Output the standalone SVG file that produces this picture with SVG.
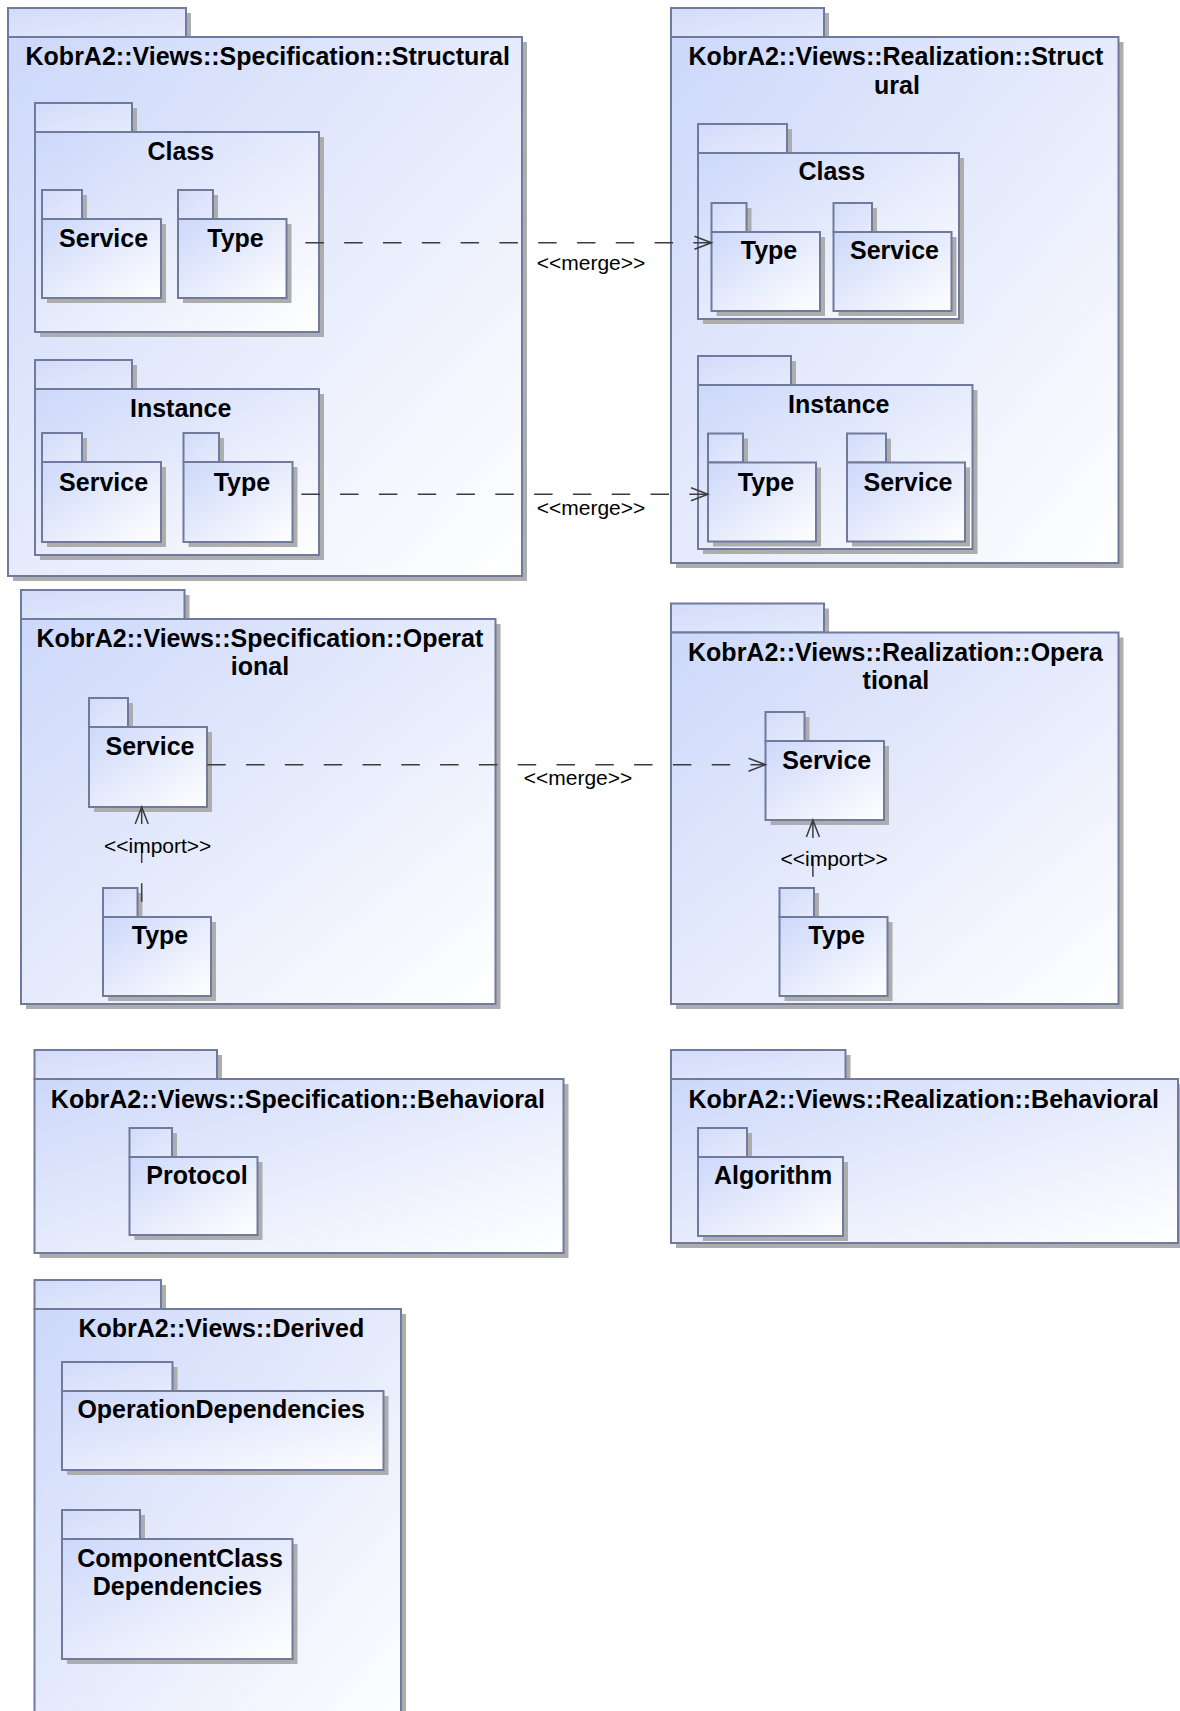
<svg xmlns="http://www.w3.org/2000/svg" width="1180" height="1711" viewBox="0 0 1180 1711">
  <defs>
    <linearGradient id="bodyFill" x1="0" y1="0" x2="1" y2="1">
      <stop offset="0" stop-color="#cdd8fa"/>
      <stop offset="1" stop-color="#ffffff"/>
    </linearGradient>
    <linearGradient id="tabFill" x1="0" y1="0" x2="1" y2="1">
      <stop offset="0" stop-color="#d2dbfa"/>
      <stop offset="1" stop-color="#e6ebfc"/>
    </linearGradient>
    <marker id="open" viewBox="-19 -9 21 18" markerWidth="21" markerHeight="18" refX="0" refY="0" orient="auto" markerUnits="userSpaceOnUse">
      <path d="M-17,-6.5 L0,0 L-17,6.5" fill="none" stroke="#3c3c3c" stroke-width="1.5"/>
    </marker>
  </defs>
  <style>
    .sh { fill: #adadad; }
    .tab { fill: url(#tabFill); stroke: #6f7a9c; stroke-width: 2; }
    .body { fill: url(#bodyFill); stroke: #6f7a9c; stroke-width: 2; }
    .name { font-family: "Liberation Sans", Arial, sans-serif; font-weight: bold; font-size: 25px; fill: #000; text-anchor: middle; }
    .lbl { font-family: "Liberation Sans", Arial, sans-serif; font-size: 21px; fill: #000; text-anchor: middle; }
    .dep { fill: none; stroke: #3c3c3c; stroke-width: 1.5; stroke-dasharray: 18.5 20.3; marker-end: url(#open); }
  </style>
  <rect width="1180" height="1711" fill="#ffffff"/>

  <!-- KobrA2::Views::Specification::Structural -->
  <g id="spec-structural">
    <rect class="sh" x="13" y="13" width="178" height="29"/>
    <rect class="sh" x="13" y="42" width="514" height="539"/>
    <rect class="tab" x="8" y="8" width="178" height="29"/>
    <rect class="body" x="8" y="37" width="514" height="539"/>
    <text class="name" x="267.7" y="65">KobrA2::Views::Specification::Structural</text>
  </g>
  <g id="spec-class">
    <rect class="sh" x="40" y="108" width="97" height="29"/>
    <rect class="sh" x="40" y="137" width="284" height="200"/>
    <rect class="tab" x="35" y="103" width="97" height="29"/>
    <rect class="body" x="35" y="132" width="284" height="200"/>
    <text class="name" x="180.8" y="160">Class</text>
  </g>
  <g id="spec-class-service">
    <rect class="sh" x="47" y="195" width="40" height="29"/>
    <rect class="sh" x="47" y="224" width="119" height="79"/>
    <rect class="tab" x="42" y="190" width="40" height="29"/>
    <rect class="body" x="42" y="219" width="119" height="79"/>
    <text class="name" x="103.6" y="246.7">Service</text>
  </g>
  <g id="spec-class-type">
    <rect class="sh" x="183" y="195" width="35" height="29"/>
    <rect class="sh" x="183" y="224" width="108.5" height="79"/>
    <rect class="tab" x="178" y="190" width="35" height="29"/>
    <rect class="body" x="178" y="219" width="108.5" height="79"/>
    <text class="name" x="235.5" y="246.7">Type</text>
  </g>
  <g id="spec-instance">
    <rect class="sh" x="40" y="365" width="97" height="29"/>
    <rect class="sh" x="40" y="394" width="284" height="166"/>
    <rect class="tab" x="35" y="360" width="97" height="29"/>
    <rect class="body" x="35" y="389" width="284" height="166"/>
    <text class="name" x="180.7" y="417.3">Instance</text>
  </g>
  <g id="spec-instance-service">
    <rect class="sh" x="47" y="438" width="40" height="29"/>
    <rect class="sh" x="47" y="467" width="119" height="80"/>
    <rect class="tab" x="42" y="433" width="40" height="29"/>
    <rect class="body" x="42" y="462" width="119" height="80"/>
    <text class="name" x="103.6" y="490.7">Service</text>
  </g>
  <g id="spec-instance-type">
    <rect class="sh" x="188.5" y="438" width="35.5" height="29"/>
    <rect class="sh" x="188.5" y="467" width="109" height="80"/>
    <rect class="tab" x="183.5" y="433" width="35.5" height="29"/>
    <rect class="body" x="183.5" y="462" width="109" height="80"/>
    <text class="name" x="241.9" y="490.7">Type</text>
  </g>

  <!-- KobrA2::Views::Realization::Structural -->
  <g id="real-structural">
    <rect class="sh" x="676" y="13" width="153" height="29"/>
    <rect class="sh" x="676" y="42" width="447.5" height="526"/>
    <rect class="tab" x="671" y="8" width="153" height="29"/>
    <rect class="body" x="671" y="37" width="447.5" height="526"/>
    <text class="name" x="896" y="65">KobrA2::Views::Realization::Struct</text>
    <text class="name" x="897" y="94">ural</text>
  </g>
  <g id="real-class">
    <rect class="sh" x="703" y="129" width="89" height="29"/>
    <rect class="sh" x="703" y="158" width="261" height="166"/>
    <rect class="tab" x="698" y="124" width="89" height="29"/>
    <rect class="body" x="698" y="153" width="261" height="166"/>
    <text class="name" x="831.8" y="180">Class</text>
  </g>
  <g id="real-class-type">
    <rect class="sh" x="716.5" y="208" width="35" height="29"/>
    <rect class="sh" x="716.5" y="237" width="108.5" height="79"/>
    <rect class="tab" x="711.5" y="203" width="35" height="29"/>
    <rect class="body" x="711.5" y="232" width="108.5" height="79"/>
    <text class="name" x="769" y="259.3">Type</text>
  </g>
  <g id="real-class-service">
    <rect class="sh" x="838.5" y="208" width="38.5" height="29"/>
    <rect class="sh" x="838.5" y="237" width="118" height="79"/>
    <rect class="tab" x="833.5" y="203" width="38.5" height="29"/>
    <rect class="body" x="833.5" y="232" width="118" height="79"/>
    <text class="name" x="894.5" y="259.3">Service</text>
  </g>
  <g id="real-instance">
    <rect class="sh" x="703" y="361" width="93" height="29"/>
    <rect class="sh" x="703" y="390" width="274.5" height="164"/>
    <rect class="tab" x="698" y="356" width="93" height="29"/>
    <rect class="body" x="698" y="385" width="274.5" height="164"/>
    <text class="name" x="838.8" y="412.7">Instance</text>
  </g>
  <g id="real-instance-type">
    <rect class="sh" x="713" y="438.5" width="35" height="29"/>
    <rect class="sh" x="713" y="467.5" width="108" height="79"/>
    <rect class="tab" x="708" y="433.5" width="35" height="29"/>
    <rect class="body" x="708" y="462.5" width="108" height="79"/>
    <text class="name" x="766" y="490.7">Type</text>
  </g>
  <g id="real-instance-service">
    <rect class="sh" x="852" y="438.5" width="39" height="29"/>
    <rect class="sh" x="852" y="467.5" width="118" height="79"/>
    <rect class="tab" x="847" y="433.5" width="39" height="29"/>
    <rect class="body" x="847" y="462.5" width="118" height="79"/>
    <text class="name" x="908" y="490.7">Service</text>
  </g>

  <!-- KobrA2::Views::Specification::Operational -->
  <g id="spec-operational">
    <rect class="sh" x="26" y="595" width="163.5" height="29"/>
    <rect class="sh" x="26" y="624" width="474.5" height="385"/>
    <rect class="tab" x="21" y="590" width="163.5" height="29"/>
    <rect class="body" x="21" y="619" width="474.5" height="385"/>
    <text class="name" x="259.9" y="646.7">KobrA2::Views::Specification::Operat</text>
    <text class="name" x="260" y="675">ional</text>
  </g>
  <g id="spec-op-service">
    <rect class="sh" x="94" y="703" width="39" height="29"/>
    <rect class="sh" x="94" y="732" width="118" height="80"/>
    <rect class="tab" x="89" y="698" width="39" height="29"/>
    <rect class="body" x="89" y="727" width="118" height="80"/>
    <text class="name" x="150" y="755">Service</text>
  </g>
  <g id="spec-op-type">
    <rect class="sh" x="108" y="893" width="34.5" height="29"/>
    <rect class="sh" x="108" y="922" width="108" height="79"/>
    <rect class="tab" x="103" y="888" width="34.5" height="29"/>
    <rect class="body" x="103" y="917" width="108" height="79"/>
    <text class="name" x="160" y="944.3">Type</text>
  </g>

  <!-- KobrA2::Views::Realization::Operational -->
  <g id="real-operational">
    <rect class="sh" x="676" y="608.5" width="153" height="29"/>
    <rect class="sh" x="676" y="637.5" width="447.5" height="371.5"/>
    <rect class="tab" x="671" y="603.5" width="153" height="29"/>
    <rect class="body" x="671" y="632.5" width="447.5" height="371.5"/>
    <text class="name" x="895.5" y="661">KobrA2::Views::Realization::Opera</text>
    <text class="name" x="895.9" y="689.3">tional</text>
  </g>
  <g id="real-op-service">
    <rect class="sh" x="770.5" y="717" width="39" height="29"/>
    <rect class="sh" x="770.5" y="746" width="118.5" height="79"/>
    <rect class="tab" x="765.5" y="712" width="39" height="29"/>
    <rect class="body" x="765.5" y="741" width="118.5" height="79"/>
    <text class="name" x="826.8" y="769.3">Service</text>
  </g>
  <g id="real-op-type">
    <rect class="sh" x="784.5" y="893" width="34.5" height="29"/>
    <rect class="sh" x="784.5" y="922" width="108" height="79"/>
    <rect class="tab" x="779.5" y="888" width="34.5" height="29"/>
    <rect class="body" x="779.5" y="917" width="108" height="79"/>
    <text class="name" x="836.6" y="944.3">Type</text>
  </g>

  <!-- KobrA2::Views::Specification::Behavioral -->
  <g id="spec-behavioral">
    <rect class="sh" x="39.5" y="1055" width="182.5" height="29"/>
    <rect class="sh" x="39.5" y="1084" width="529" height="174"/>
    <rect class="tab" x="34.5" y="1050" width="182.5" height="29"/>
    <rect class="body" x="34.5" y="1079" width="529" height="174"/>
    <text class="name" x="297.9" y="1108.3">KobrA2::Views::Specification::Behavioral</text>
  </g>
  <g id="spec-protocol">
    <rect class="sh" x="134.5" y="1133" width="42.5" height="29"/>
    <rect class="sh" x="134.5" y="1162" width="128" height="78"/>
    <rect class="tab" x="129.5" y="1128" width="42.5" height="29"/>
    <rect class="body" x="129.5" y="1157" width="128" height="78"/>
    <text class="name" x="197" y="1184.3">Protocol</text>
  </g>

  <!-- KobrA2::Views::Realization::Behavioral -->
  <g id="real-behavioral">
    <rect class="sh" x="676" y="1055" width="174.5" height="29"/>
    <rect class="sh" x="676" y="1084" width="507" height="164"/>
    <rect class="tab" x="671" y="1050" width="174.5" height="29"/>
    <rect class="body" x="671" y="1079" width="507" height="164"/>
    <text class="name" x="923.7" y="1108.3">KobrA2::Views::Realization::Behavioral</text>
  </g>
  <g id="real-algorithm">
    <rect class="sh" x="703" y="1133" width="49" height="29"/>
    <rect class="sh" x="703" y="1162" width="145" height="79"/>
    <rect class="tab" x="698" y="1128" width="49" height="29"/>
    <rect class="body" x="698" y="1157" width="145" height="79"/>
    <text class="name" x="773.1" y="1184.3">Algorithm</text>
  </g>

  <!-- KobrA2::Views::Derived -->
  <g id="derived">
    <rect class="sh" x="39.5" y="1285" width="126.5" height="29"/>
    <rect class="sh" x="39.5" y="1314" width="366.5" height="430"/>
    <rect class="tab" x="34.5" y="1280" width="126.5" height="29"/>
    <rect class="body" x="34.5" y="1309" width="366.5" height="430"/>
    <text class="name" x="221.3" y="1336.7">KobrA2::Views::Derived</text>
  </g>
  <g id="derived-operation-dependencies">
    <rect class="sh" x="67" y="1367" width="110.5" height="29"/>
    <rect class="sh" x="67" y="1396" width="321.5" height="79"/>
    <rect class="tab" x="62" y="1362" width="110.5" height="29"/>
    <rect class="body" x="62" y="1391" width="321.5" height="79"/>
    <text class="name" x="221.2" y="1417.7">OperationDependencies</text>
  </g>
  <g id="derived-componentclass-dependencies">
    <rect class="sh" x="67" y="1515" width="78" height="29"/>
    <rect class="sh" x="67" y="1544" width="230.5" height="120"/>
    <rect class="tab" x="62" y="1510" width="78" height="29"/>
    <rect class="body" x="62" y="1539" width="230.5" height="120"/>
    <text class="name" x="180" y="1566.7">ComponentClass</text>
    <text class="name" x="177.5" y="1595">Dependencies</text>
  </g>

  <!-- merge and import dependencies -->
  <g id="connectors">
    <path class="dep" d="M305.4,242.7 H711.5"/>
    <path class="dep" d="M301.3,494.3 H708"/>
    <path class="dep" d="M207.3,764.7 H765.5"/>
    <path class="dep" d="M141.7,901.7 V807"/>
    <path class="dep" d="M812.9,876.7 V820"/>
    <text class="lbl" x="591" y="270">&lt;&lt;merge&gt;&gt;</text>
    <text class="lbl" x="591" y="515">&lt;&lt;merge&gt;&gt;</text>
    <text class="lbl" x="578" y="784.5">&lt;&lt;merge&gt;&gt;</text>
    <text class="lbl" x="157.7" y="852.7">&lt;&lt;import&gt;&gt;</text>
    <text class="lbl" x="834.2" y="866">&lt;&lt;import&gt;&gt;</text>
  </g>
</svg>
